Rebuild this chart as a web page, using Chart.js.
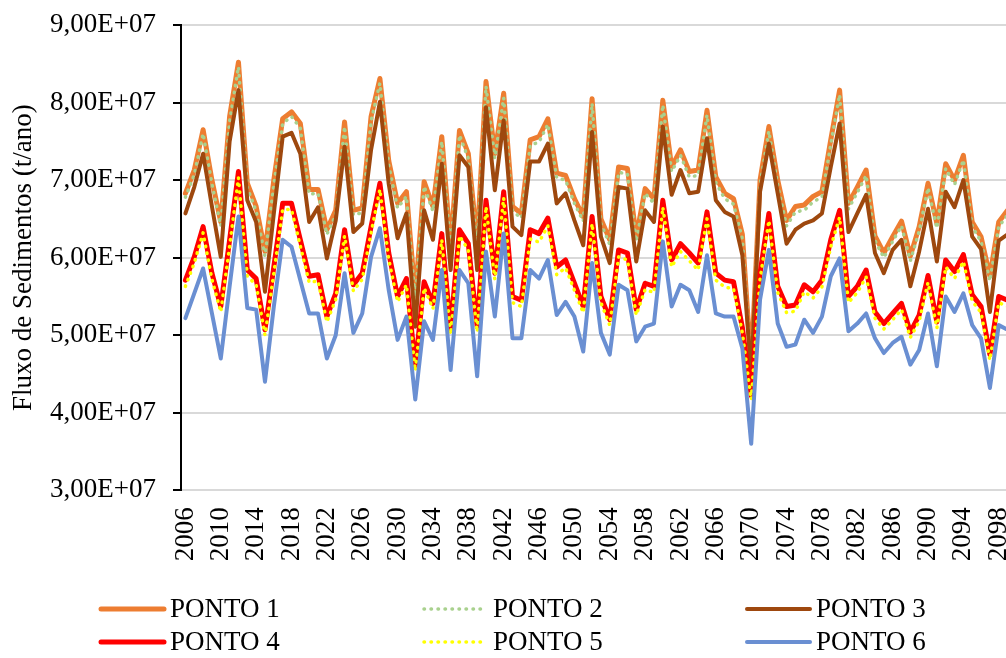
<!DOCTYPE html>
<html>
<head>
<meta charset="utf-8">
<script src="https://cdn.jsdelivr.net/npm/chart.js@4.4.0/dist/chart.umd.min.js"></script>
<style>
    html, body { margin: 0; padding: 0; overflow: hidden; background: #fff; }
    #chart { display: block; }
</style>
</head>
<body>
<canvas id="chart" width="1030" height="658"></canvas>
<script>
// values in units of 1E+07 t/ano, years 2006 - 2099
var SCALE = 1e7;
var firstYear = 2006;
var yTicks = [3, 4, 5, 6, 7, 8, 9];

var ponto1 = [6.83, 7.13, 7.65, 7.00, 6.46, 7.82, 8.52, 6.96, 6.66, 6.08,
    7.00, 7.79, 7.88, 7.73, 6.88, 6.88, 6.36, 6.61, 7.75, 6.61,
    6.64, 7.82, 8.31, 7.25, 6.70, 6.85, 5.50, 6.98, 6.66, 7.56,
    6.15, 7.64, 7.34, 6.20, 8.27, 7.34, 8.12, 6.66, 6.57, 7.52,
    7.56, 7.79, 7.09, 7.06, 6.76, 6.53, 8.05, 6.50, 6.23, 7.17,
    7.15, 6.27, 6.89, 6.76, 8.03, 7.17, 7.39, 7.11, 7.13, 7.90,
    7.04, 6.83, 6.76, 6.30, 4.60, 7.00, 7.69, 7.00, 6.48, 6.66,
    6.68, 6.79, 6.85, 7.52, 8.16, 6.70, 6.91, 7.13, 6.28, 6.06,
    6.27, 6.47, 6.02, 6.40, 6.96, 6.44, 7.21, 7.00, 7.32, 6.46,
    6.27, 5.76, 6.46, 6.61];

var ponto2 = [6.78, 7.07, 7.60, 6.95, 6.41, 7.76, 8.46, 6.90, 6.60, 6.02,
    6.94, 7.73, 7.82, 7.67, 6.82, 6.83, 6.30, 6.55, 7.69, 6.55,
    6.58, 7.76, 8.25, 7.19, 6.64, 6.79, 5.45, 6.92, 6.60, 7.50,
    6.09, 7.58, 7.28, 6.14, 8.21, 7.28, 8.06, 6.60, 6.51, 7.45,
    7.49, 7.72, 7.03, 7.00, 6.70, 6.47, 7.99, 6.44, 6.17, 7.10,
    7.08, 6.21, 6.83, 6.70, 7.97, 7.11, 7.32, 7.04, 7.06, 7.84,
    6.97, 6.76, 6.69, 6.24, 4.55, 6.94, 7.63, 6.93, 6.41, 6.59,
    6.61, 6.72, 6.78, 7.46, 8.10, 6.63, 6.84, 7.06, 6.22, 6.00,
    6.21, 6.41, 5.96, 6.34, 6.90, 6.38, 7.15, 6.94, 7.26, 6.40,
    6.21, 5.70, 6.40, 6.55];

var ponto3 = [6.57, 6.91, 7.34, 6.66, 6.01, 7.50, 8.16, 6.74, 6.46, 5.56,
    6.57, 7.56, 7.61, 7.34, 6.46, 6.65, 5.99, 6.48, 7.43, 6.33,
    6.44, 7.39, 8.01, 6.95, 6.25, 6.57, 5.11, 6.61, 6.23, 7.21,
    5.84, 7.32, 7.17, 5.84, 7.94, 6.87, 7.77, 6.40, 6.29, 7.24,
    7.24, 7.47, 6.70, 6.83, 6.48, 6.16, 7.62, 6.27, 5.93, 6.91,
    6.89, 5.95, 6.61, 6.46, 7.69, 6.81, 7.13, 6.83, 6.85, 7.54,
    6.74, 6.59, 6.53, 6.03, 4.50, 6.85, 7.47, 6.83, 6.18, 6.36,
    6.44, 6.48, 6.57, 7.17, 7.73, 6.33, 6.57, 6.81, 6.06, 5.80,
    6.10, 6.23, 5.63, 6.08, 6.63, 5.95, 6.85, 6.65, 7.00, 6.27,
    6.11, 5.30, 6.22, 6.30];

var ponto4 = [5.71, 6.01, 6.40, 5.80, 5.37, 6.23, 7.11, 5.84, 5.73, 5.07,
    5.88, 6.70, 6.70, 6.23, 5.76, 5.78, 5.24, 5.54, 6.36, 5.65,
    5.80, 6.40, 6.96, 6.06, 5.50, 5.73, 4.60, 5.69, 5.41, 6.31,
    5.08, 6.36, 6.18, 5.11, 6.74, 5.80, 6.85, 5.50, 5.45, 6.36,
    6.31, 6.51, 5.88, 5.97, 5.67, 5.37, 6.53, 5.50, 5.20, 6.10,
    6.06, 5.33, 5.67, 5.63, 6.74, 5.97, 6.18, 6.06, 5.93, 6.59,
    5.80, 5.71, 5.69, 5.10, 4.22, 5.80, 6.57, 5.63, 5.37, 5.39,
    5.65, 5.56, 5.71, 6.23, 6.61, 5.50, 5.63, 5.84, 5.30, 5.15,
    5.28, 5.41, 5.04, 5.26, 5.77, 5.17, 5.97, 5.82, 6.04, 5.52,
    5.37, 4.75, 5.50, 5.45];

var ponto5 = [5.63, 5.93, 6.32, 5.72, 5.30, 6.15, 7.03, 5.76, 5.65, 5.00,
    5.80, 6.62, 6.62, 6.15, 5.68, 5.70, 5.17, 5.46, 6.28, 5.57,
    5.72, 6.32, 6.88, 5.98, 5.43, 5.65, 4.54, 5.61, 5.34, 6.23,
    5.01, 6.28, 6.10, 5.04, 6.66, 5.72, 6.77, 5.42, 5.37, 6.24,
    6.20, 6.41, 5.78, 5.87, 5.58, 5.29, 6.44, 5.42, 5.13, 6.01,
    5.97, 5.26, 5.59, 5.55, 6.65, 5.88, 6.08, 5.96, 5.84, 6.50,
    5.71, 5.62, 5.60, 5.03, 4.17, 5.72, 6.48, 5.55, 5.29, 5.31,
    5.56, 5.48, 5.62, 6.14, 6.52, 5.42, 5.55, 5.75, 5.22, 5.08,
    5.20, 5.33, 4.97, 5.18, 5.68, 5.09, 5.88, 5.73, 5.95, 5.44,
    5.29, 4.68, 5.42, 5.37];

var ponto6 = [5.22, 5.54, 5.86, 5.28, 4.70, 5.63, 6.53, 5.35, 5.33, 4.40,
    5.37, 6.23, 6.14, 5.71, 5.28, 5.28, 4.70, 5.00, 5.80, 5.03,
    5.28, 6.01, 6.38, 5.58, 4.94, 5.24, 4.17, 5.18, 4.94, 5.84,
    4.55, 5.84, 5.67, 4.47, 6.08, 5.24, 6.31, 4.96, 4.96, 5.84,
    5.73, 5.97, 5.26, 5.43, 5.24, 4.79, 5.93, 5.03, 4.75, 5.65,
    5.58, 4.92, 5.11, 5.15, 6.21, 5.37, 5.65, 5.58, 5.30, 6.03,
    5.28, 5.24, 5.24, 4.83, 3.60, 5.46, 6.10, 5.15, 4.85, 4.88,
    5.20, 5.03, 5.24, 5.76, 5.99, 5.05, 5.15, 5.28, 4.96, 4.77,
    4.90, 4.98, 4.62, 4.81, 5.28, 4.60, 5.50, 5.30, 5.54, 5.13,
    4.96, 4.32, 5.13, 5.07];

var years = ponto1.map(function (v, i) { return String(firstYear + i); });
var seriesNames = ['PONTO 1', 'PONTO 2', 'PONTO 3', 'PONTO 4', 'PONTO 5', 'PONTO 6'];
var seriesValues = [ponto1, ponto2, ponto3, ponto4, ponto5, ponto6];
var seriesColors = ['#ED7D31', '#A9D18E', '#9E480E', '#FF0000', '#FFFF00', '#6A8FD2'];
var seriesWidths = [5, 3.5, 4, 5, 3.5, 4];
var seriesDashes = [[], [0.5, 6.5], [], [], [0.5, 6.5], []];

var FONT = "'Liberation Serif', 'Times New Roman', serif";

function sciLabel(value) {
    if (value === 0) return '0,00E+00';
    var exp = Math.floor(Math.log10(Math.abs(value)) + 1e-9);
    var mant = value / Math.pow(10, exp);
    var sign = exp < 0 ? '-' : '+';
    var e = Math.abs(exp);
    return mant.toFixed(2).replace('.', ',') + 'E' + sign + (e < 10 ? '0' + e : e);
}

// legend in two rows of three, like the excel one
var gridLegend = {
    id: 'gridLegend',
    afterDraw: function (chart) {
        var ctx = chart.ctx;
        var cols = [101, 424, 747];
        var rows = [609, 642];
        ctx.save();
        ctx.font = '27px ' + FONT;
        ctx.textBaseline = 'middle';
        chart.data.datasets.forEach(function (ds, i) {
            var x = cols[i % 3];
            var y = rows[Math.floor(i / 3)];
            ctx.beginPath();
            ctx.strokeStyle = ds.borderColor;
            ctx.lineWidth = ds.borderWidth;
            ctx.lineCap = 'round';
            ctx.setLineDash(ds.borderDash || []);
            ctx.moveTo(x, y);
            ctx.lineTo(x + 63, y);
            ctx.stroke();
            ctx.setLineDash([]);
            ctx.fillStyle = '#000';
            ctx.fillText(ds.label, x + 69, y + 1);
        });
        ctx.restore();
    }
};

var datasets = seriesNames.map(function (name, i) {
    return {
        label: name,
        data: seriesValues[i].map(function (v) { return v * SCALE; }),
        borderColor: seriesColors[i],
        backgroundColor: seriesColors[i],
        borderWidth: seriesWidths[i],
        borderDash: seriesDashes[i],
        borderCapStyle: 'round',
        borderJoinStyle: 'round',
        pointRadius: 0,
        tension: 0,
        fill: false,
        order: seriesNames.length - i
    };
});

var ctx = document.getElementById('chart').getContext('2d');
var myChart = new Chart(ctx, {
    type: 'line',
    data: {
        labels: years,
        datasets: datasets
    },
    options: {
        responsive: false,
        animation: false,
        layout: {
            padding: { left: 8, right: 18, top: 25, bottom: 0 }
        },
        plugins: {
            legend: { display: false },
            tooltip: { enabled: false }
        },
        scales: {
            x: {
                offset: true,
                grid: { display: false },
                border: { display: false },
                ticks: {
                    autoSkip: false,
                    minRotation: 90,
                    maxRotation: 90,
                    padding: 9,
                    color: '#000',
                    font: { family: FONT, size: 27 },
                    callback: function (value, index) {
                        return index % 4 === 0 ? years[index] : null;
                    }
                },
                afterFit: function (scale) {
                    scale.height = 167.7;
                    scale.paddingLeft = 0;
                    scale.paddingRight = 0;
                }
            },
            y: {
                min: yTicks[0] * SCALE,
                max: yTicks[yTicks.length - 1] * SCALE,
                grid: {
                    color: '#D9D9D9',
                    lineWidth: 2,
                    tickColor: '#000',
                    tickLength: 8,
                    tickWidth: 2
                },
                border: { display: true, color: '#000', width: 2 },
                ticks: {
                    stepSize: SCALE,
                    padding: 17,
                    color: '#000',
                    font: { family: FONT, size: 27 },
                    callback: function (value) { return sciLabel(value); }
                },
                title: {
                    display: true,
                    text: 'Fluxo de Sedimentos (t/ano)',
                    color: '#000',
                    font: { family: FONT, size: 27 },
                    padding: 0
                },
                afterFit: function (scale) {
                    scale.width = 173;
                    scale.paddingTop = 0;
                    scale.paddingBottom = 0;
                }
            }
        }
    },
    plugins: [gridLegend]
});
</script>
</body>
</html>
